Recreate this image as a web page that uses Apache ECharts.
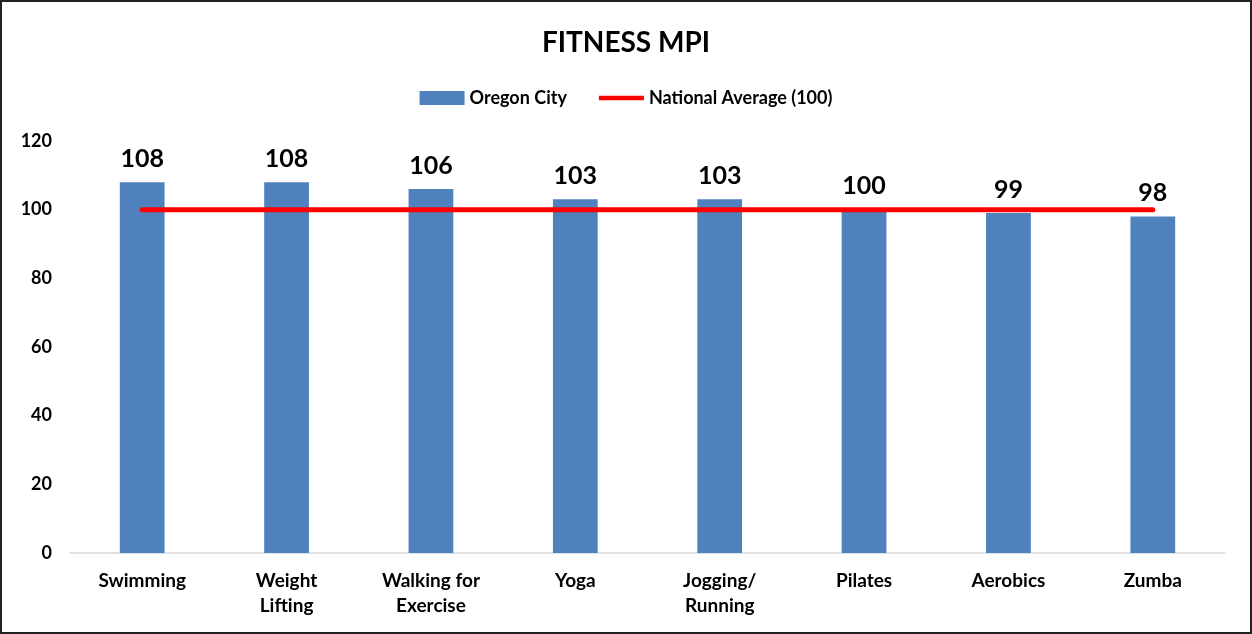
<!DOCTYPE html>
<html>
<head>
<meta charset="utf-8">
<script src="https://cdn.jsdelivr.net/npm/echarts@6/dist/echarts.min.js"></script>
<style>
  html, body { margin: 0; padding: 0; background: #fff; }
  #chart { width: 1252px; height: 634px; box-sizing: border-box; border: 2px solid #222; }
</style>
</head>
<body>
<div id="chart"></div>
<script>
// Fitness activity MPI for Oregon City vs national average
const categories = ['Swimming', 'Weight\nLifting', 'Walking for\nExercise', 'Yoga', 'Jogging/\nRunning', 'Pilates', 'Aerobics', 'Zumba'];
const oregonCity = [108, 108, 106, 103, 103, 100, 99, 98];
const nationalAverage = [100, 100, 100, 100, 100, 100, 100, 100];
const yTicks = [0, 20, 40, 60, 80, 100, 120];

const FONT = 'Lato, "Open Sans", sans-serif';
const chart = echarts.init(document.getElementById('chart'), null, { renderer: 'canvas' });

chart.setOption({
  backgroundColor: '#fff',
  animation: false,
  title: {
    text: 'FITNESS MPI',
    left: 'center',
    top: 22,
    textStyle: { fontFamily: FONT, fontSize: 28, fontWeight: 'bold', color: '#000' }
  },
  legend: {
    top: 82,
    left: 'center',
    itemGap: 32,
    itemWidth: 45,
    itemHeight: 14,
    textStyle: { fontFamily: FONT, fontSize: 18, fontWeight: 'bold', color: '#000' },
    data: [
      { name: 'Oregon City', icon: 'rect' },
      { name: 'National Average (100)', icon: 'path://M0,0 L50,0 L50,5 L0,5 Z', itemStyle: { color: '#ff0000' } }
    ]
  },
  grid: { left: 68, right: 25, top: 139, bottom: 79, containLabel: false },
  xAxis: {
    type: 'category',
    data: categories,
    axisLine: { show: true, lineStyle: { color: '#d9d9d9', width: 1.5 } },
    axisTick: { show: false },
    axisLabel: {
      fontFamily: FONT, fontSize: 19, fontWeight: 'bold', color: '#000',
      margin: 15, lineHeight: 25, interval: 0
    }
  },
  yAxis: {
    type: 'value',
    min: yTicks[0],
    max: yTicks[yTicks.length - 1],
    interval: 20,
    axisLine: { show: false },
    axisTick: { show: false },
    splitLine: { show: false },
    axisLabel: { fontFamily: FONT, fontSize: 18, fontWeight: 'bold', color: '#000', margin: 18 }
  },
  series: [
    {
      name: 'Oregon City',
      type: 'bar',
      data: oregonCity,
      barWidth: '31%',
      itemStyle: { color: '#4f81bd' },
      label: {
        show: true,
        position: 'top',
        distance: 11,
        fontFamily: FONT, fontSize: 25, fontWeight: 'bold', color: '#000'
      },
      z: 2
    },
    {
      name: 'National Average (100)',
      type: 'line',
      data: nationalAverage,
      symbol: 'none',
      lineStyle: { color: '#ff0000', width: 5, cap: 'round' },
      itemStyle: { color: '#ff0000' },
      z: 3
    }
  ]
});
</script>
</body>
</html>
